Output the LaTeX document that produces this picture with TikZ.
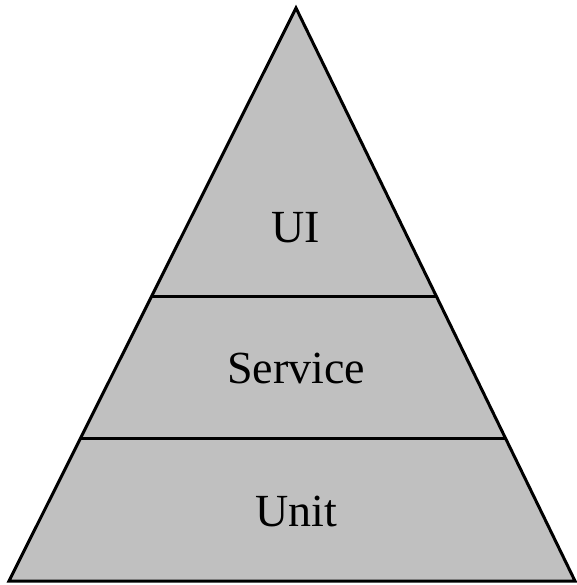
\documentclass[tikz,border=0pt]{standalone}
\usepackage{fontspec}
\setmainfont{Liberation Serif}
\definecolor{pyrfill}{RGB}{192,192,192}
\begin{document}
\begin{tikzpicture}[x=1pt,y=-1pt,
  tier/.style={fill=pyrfill,draw=black,line width=3pt,line join=miter},
  divider/.style={draw=black,line width=3pt},
  lbl/.style={font=\fontsize{46}{50}\selectfont,text=black,inner sep=0pt}]
\useasboundingbox (0,0) rectangle (576,585);
\coordinate (apex) at (296,8);
\coordinate (bl) at (9,581);
\coordinate (br) at (575,581);
\fill[pyrfill] (apex) -- (br) -- (bl) -- cycle;
\begin{scope}
\clip (apex) -- (br) -- (bl) -- cycle;
\draw[divider] (100,296) -- (500,296);
\draw[divider] (50,438) -- (550,438);
\end{scope}
\draw[tier,fill=none] (apex) -- (br) -- (bl) -- cycle;
\node[lbl] (ui) at (296,228) {UI};
\node[lbl] (service) at (296,368) {Service};
\node[lbl] (unit) at (296,511) {Unit};
\end{tikzpicture}
\end{document}
